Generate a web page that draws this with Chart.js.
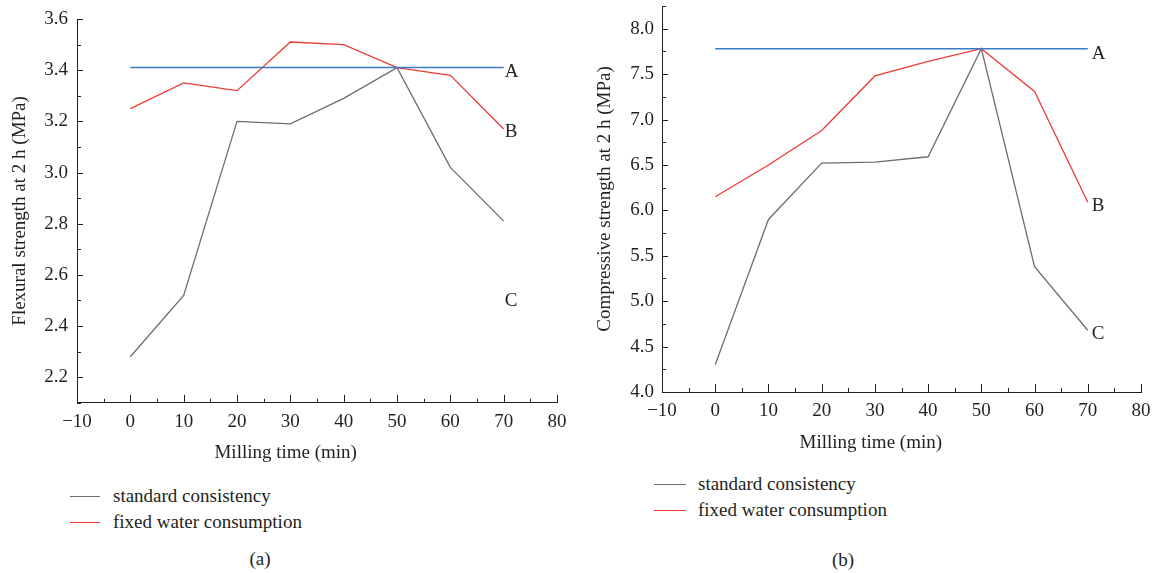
<!DOCTYPE html>
<html>
<head>
<meta charset="utf-8">
<script src="https://cdn.jsdelivr.net/npm/chart.js@4.4.1/dist/chart.umd.min.js"></script>
<style>
    body { margin: 0; width: 1157px; height: 573px; background: #fff; position: relative; overflow: hidden;
           font-family: "Liberation Serif", serif; color: #231f20; }
    canvas { position: absolute; top: 0; }
    #chartA { left: 0; }
    #chartB { left: 580px; }
    .legend { position: absolute; font-size: 19px; line-height: 26px; }
    .legend div { position: relative; white-space: nowrap; }
    .legend span { position: absolute; left: 0; top: 13px; height: 0; border-top: 1.3px solid; }
    .caption { position: absolute; width: 60px; text-align: center; font-size: 19px; line-height: 26px; }
</style>
</head>
<body>
<canvas id="chartA" width="580" height="470"></canvas>
<canvas id="chartB" width="577" height="470"></canvas>

<div class="legend" style="left:70px; top:483px;">
    <div style="padding-left:43px;"><span style="width:30px; border-color:#6e6e6e;"></span>standard consistency</div>
    <div style="padding-left:43px;"><span style="width:30px; border-color:#ef3b36;"></span>fixed water consumption</div>
</div>
<div class="legend" style="left:654px; top:471px;">
    <div style="padding-left:44px;"><span style="width:32px; border-color:#6e6e6e;"></span>standard consistency</div>
    <div style="padding-left:44px;"><span style="width:32px; border-color:#ef3b36;"></span>fixed water consumption</div>
</div>
<div class="caption" style="left:230px; top:546px;">(a)</div>
<div class="caption" style="left:813px; top:547px;">(b)</div>

<script>
// Data
const millingTime = [0, 10, 20, 30, 40, 50, 60, 70];
const lineAEnds = [0, 70];

const flexStandard = [2.28, 2.52, 3.20, 3.19, 3.29, 3.41, 3.02, 2.81];
const flexFixedWater = [3.25, 3.35, 3.32, 3.51, 3.50, 3.41, 3.38, 3.17];
const flexLineA = [3.41, 3.41];

const compStandard = [4.30, 5.90, 6.52, 6.53, 6.59, 7.78, 5.38, 4.68];
const compFixedWater = [6.15, 6.50, 6.88, 7.48, 7.64, 7.78, 7.31, 6.09];
const compLineA = [7.78, 7.78];

const xTicks = [-10, 0, 10, 20, 30, 40, 50, 60, 70, 80];
const flexTicks = [2.2, 2.4, 2.6, 2.8, 3.0, 3.2, 3.4, 3.6];
const compTicks = [4.0, 4.5, 5.0, 5.5, 6.0, 6.5, 7.0, 7.5, 8.0];

// curve labels A/B/C (data units)
const flexMarks = [['A', 70, 3.40], ['B', 70, 3.167], ['C', 70, 2.505]];
const compMarks = [['A', 70, 7.74], ['B', 70, 6.07], ['C', 70, 4.66]];

const textColor = '#231f20';
const axisColor = '#231f20';
const grayLine = '#6e6e6e';
const redLine = '#ef3b36';
const blueLine = '#3a7cc4';
const fontFamily = '"Liberation Serif", serif';

function toPoints(xs, ys) {
    return xs.map((x, i) => ({ x: x, y: ys[i] }));
}

function minusLabel(v) {
    return v < 0 ? '\u2212' + Math.abs(v) : String(v);
}

// Ticks drawn inwards, with a minor tick half way between majors
const innerTicks = {
    id: 'innerTicks',
    afterDraw(chart) {
        const { ctx, chartArea } = chart;
        const x = chart.scales.x, y = chart.scales.y;
        ctx.save();
        ctx.strokeStyle = axisColor;
        ctx.lineWidth = 1;
        ctx.beginPath();

        const xStep = (xTicks[1] - xTicks[0]) / 2;
        for (let k = 0; xTicks[0] + k * xStep <= x.max + 1e-9; k++) {
            const px = Math.round(x.getPixelForValue(xTicks[0] + k * xStep)) + 0.5;
            const len = k % 2 === 0 ? 8 : 4;
            ctx.moveTo(px, chartArea.bottom);
            ctx.lineTo(px, chartArea.bottom - len);
        }

        const yt = chart.options.yTickList;
        const yStep = (yt[1] - yt[0]) / 2;
        for (let k = -4; yt[0] + k * yStep <= y.max + 1e-9; k++) {
            const v = yt[0] + k * yStep;
            if (v < y.min - 1e-9) continue;
            const py = Math.round(y.getPixelForValue(v)) + 0.5;
            const len = k % 2 === 0 ? 6 : 4;
            ctx.moveTo(chartArea.left, py);
            ctx.lineTo(chartArea.left + len, py);
        }
        ctx.stroke();
        ctx.restore();
    }
};

const markLabels = {
    id: 'markLabels',
    afterDatasetsDraw(chart, args, opts) {
        const { ctx } = chart;
        const x = chart.scales.x, y = chart.scales.y;
        ctx.save();
        ctx.font = '19px ' + fontFamily;
        ctx.fillStyle = textColor;
        ctx.textAlign = 'left';
        ctx.textBaseline = 'middle';
        opts.marks.forEach(m => {
            ctx.fillText(m[0], x.getPixelForValue(m[1]) + opts.dx, y.getPixelForValue(m[2]) + 2);
        });
        ctx.restore();
    }
};

function makeChart(id, c) {
    const ctx = document.getElementById(id).getContext('2d');
    return new Chart(ctx, {
        type: 'line',
        data: {
            datasets: [{
                label: 'A',
                data: toPoints(lineAEnds, c.lineA),
                borderColor: blueLine,
                borderWidth: 1.5
            }, {
                label: 'fixed water consumption',
                data: toPoints(millingTime, c.fixed),
                borderColor: redLine,
                borderWidth: 1.3
            }, {
                label: 'standard consistency',
                data: toPoints(millingTime, c.standard),
                borderColor: grayLine,
                borderWidth: 1.3
            }]
        },
        options: {
            responsive: false,
            devicePixelRatio: 1,
            animation: false,
            yTickList: c.yTicks,
            elements: { point: { radius: 0 }, line: { tension: 0 } },
            layout: { padding: c.pad },
            scales: {
                x: {
                    type: 'linear',
                    min: -10,
                    max: 80,
                    grid: { display: false, drawTicks: false },
                    border: { display: true, color: axisColor, width: 1 },
                    afterBuildTicks: s => { s.ticks = xTicks.map(v => ({ value: v })); },
                    afterFit: s => { s.height = 30; s.paddingLeft = 0; s.paddingRight = 0; },
                    ticks: {
                        autoSkip: false,
                        maxRotation: 0,
                        padding: 8,
                        color: textColor,
                        font: { family: fontFamily, size: 19 },
                        callback: v => minusLabel(v)
                    }
                },
                y: {
                    type: 'linear',
                    min: c.yMin,
                    max: c.yMax,
                    grid: { display: false, drawTicks: false },
                    border: { display: true, color: axisColor, width: 1 },
                    afterBuildTicks: s => { s.ticks = c.yTicks.map(v => ({ value: v })); },
                    afterFit: s => { s.width = c.yWidth; s.paddingTop = 0; s.paddingBottom = 0; },
                    ticks: {
                        autoSkip: false,
                        padding: c.yPad,
                        color: textColor,
                        font: { family: fontFamily, size: 19 },
                        callback: v => Number(v).toFixed(1)
                    },
                    title: {
                        display: true,
                        text: c.yTitle,
                        color: textColor,
                        font: { family: fontFamily, size: 19 },
                        padding: { top: c.yTitlePad, bottom: 0 }
                    }
                }
            },
            plugins: {
                legend: { display: false },
                tooltip: { enabled: false },
                title: {
                    display: true,
                    position: 'bottom',
                    text: 'Milling time (min)',
                    color: textColor,
                    font: { family: fontFamily, size: 19, weight: 'normal' },
                    padding: { top: c.xTitlePad, bottom: 0 }
                },
                markLabels: { marks: c.marks, dx: c.markDx }
            }
        },
        plugins: [innerTicks, markLabels]
    });
}

makeChart('chartA', {
    standard: flexStandard,
    fixed: flexFixedWater,
    lineA: flexLineA,
    yMin: 2.1,
    yMax: 3.6,
    yTicks: flexTicks,
    yTitle: 'Flexural strength at 2 h (MPa)',
    marks: flexMarks,
    markDx: 1,
    pad: { left: 14.4, right: 23, top: 19, bottom: 5.9 },
    yWidth: 62.6,
    yPad: 9,
    yTitlePad: -5.8,
    xTitlePad: 8.5
});

makeChart('chartB', {
    standard: compStandard,
    fixed: compFixedWater,
    lineA: compLineA,
    yMin: 4.0,
    yMax: 8.25,
    yTicks: compTicks,
    yTitle: 'Compressive strength at 2 h (MPa)',
    marks: compMarks,
    markDx: 4,
    pad: { left: 20.6, right: 16, top: 6, bottom: 15.7 },
    yWidth: 61.4,
    yPad: 8,
    yTitlePad: -6.5,
    xTitlePad: 9.5
});
</script>
</body>
</html>
